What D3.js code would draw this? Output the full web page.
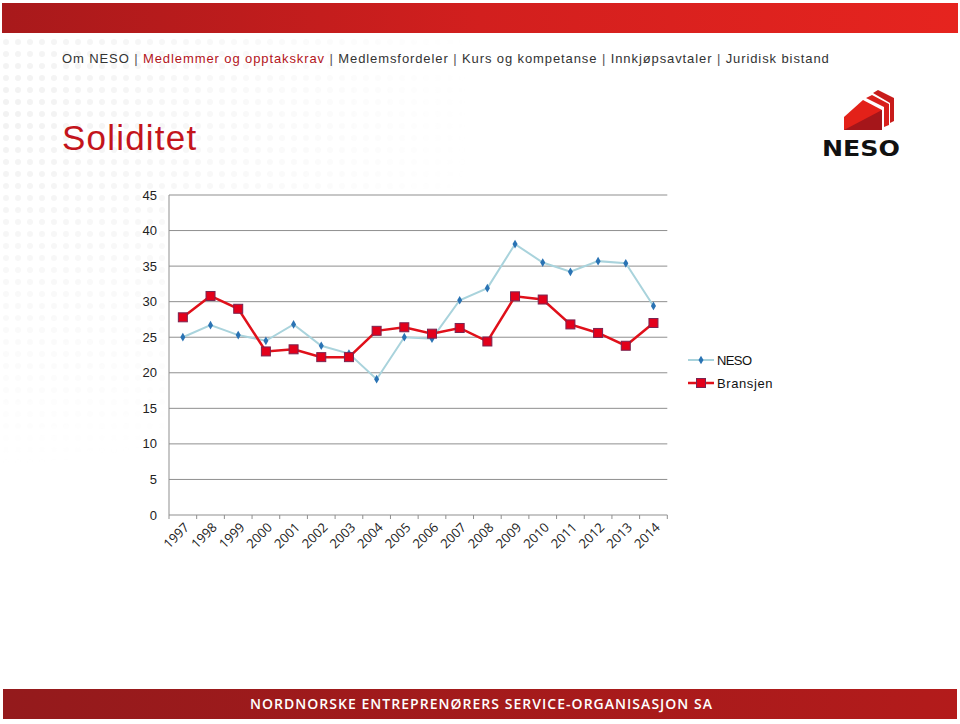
<!DOCTYPE html>
<html>
<head>
<meta charset="utf-8">
<script src="https://cdn.jsdelivr.net/npm/d3@7"></script>
<style>
  html, body { margin: 0; padding: 0; background: #fff; }
  svg { display: block; }
</style>
</head>
<body>
<div id="chart"></div>
<script>
// data
const years = ["1997","1998","1999","2000","2001","2002","2003","2004","2005",
               "2006","2007","2008","2009","2010","2011","2012","2013","2014"];
const neso = [25.0, 26.7, 25.3, 24.5, 26.8, 23.8, 22.7, 19.1, 25.0,
              24.8, 30.2, 31.9, 38.1, 35.5, 34.2, 35.7, 35.4, 29.4];
const bransjen = [27.8, 30.8, 29.0, 23.0, 23.3, 22.2, 22.2, 25.9, 26.4,
                  25.5, 26.3, 24.4, 30.75, 30.3, 26.8, 25.6, 23.8, 27.0];
const yTicks = [0, 5, 10, 15, 20, 25, 30, 35, 40, 45];
const seriesNames = ["NESO", "Bransjen"];
const navItems = ["Om NESO", "Medlemmer og opptakskrav", "Medlemsfordeler",
                  "Kurs og kompetanse", "Innkjøpsavtaler", "Juridisk bistand"];

const W = 960, H = 724;
const svg = d3.select("#chart").append("svg")
    .attr("width", W)
    .attr("height", H);

const defs = svg.append("defs");

// header / footer gradients
const hg = defs.append("linearGradient").attr("id", "hdr");
hg.append("stop").attr("offset", "0%").attr("stop-color", "#a8191b");
hg.append("stop").attr("offset", "50%").attr("stop-color", "#d21f1e");
hg.append("stop").attr("offset", "100%").attr("stop-color", "#e6241f");

const fg = defs.append("linearGradient").attr("id", "ftr");
fg.append("stop").attr("offset", "0%").attr("stop-color", "#941a1c");
fg.append("stop").attr("offset", "100%").attr("stop-color", "#b31b1b");

// faint halftone dots in the background
const pat = defs.append("pattern").attr("id", "dots")
    .attr("width", 12).attr("height", 12)
    .attr("patternUnits", "userSpaceOnUse");
pat.append("circle").attr("cx", 6).attr("cy", 6).attr("r", 3).attr("fill", "#ececec");
const rg = defs.append("radialGradient").attr("id", "fade")
    .attr("cx", 0).attr("cy", 0.15).attr("r", 0.5);
rg.append("stop").attr("offset", "0%").attr("stop-color", "#fff").attr("stop-opacity", 0.7);
rg.append("stop").attr("offset", "100%").attr("stop-color", "#fff").attr("stop-opacity", 0);
defs.append("mask").attr("id", "dotmask")
    .append("rect").attr("width", W).attr("height", H).attr("fill", "url(#fade)");
svg.append("rect")
    .attr("width", W).attr("height", H)
    .attr("fill", "url(#dots)")
    .attr("mask", "url(#dotmask)");

// header band
svg.append("rect")
    .attr("x", 2).attr("y", 3)
    .attr("width", W - 4).attr("height", 30)
    .attr("fill", "url(#hdr)");

// nav menu
const nav = svg.append("text")
    .attr("x", 62).attr("y", 63)
    .style("font-family", "Liberation Sans, Arial, sans-serif")
    .style("font-size", "13px")
    .style("letter-spacing", "0.9px");
navItems.forEach((t, i) => {
    nav.append("tspan")
        .attr("fill", i === 1 ? "#b3141b" : "#333")
        .text(t);
    if (i < navItems.length - 1) {
        nav.append("tspan").attr("fill", "#555").text(" | ");
    }
});

// title
svg.append("text")
    .attr("x", 62).attr("y", 150)
    .style("font-family", "Liberation Sans, Arial, sans-serif")
    .style("font-size", "35px")
    .style("letter-spacing", "1.2px")
    .attr("fill", "#c3141b")
    .text("Soliditet");

// logo
const logo = svg.append("g");
logo.append("polygon")
    .attr("points", "844,130 844,117 863,100 882,110 882,130")
    .attr("fill", "#e32119");
logo.append("polygon")
    .attr("points", "844,130 882,110 882,130")
    .attr("fill", "#a5161a");
logo.append("polygon")
    .attr("points", "866,98 872,95 889,104 889,125 884,127 884,107")
    .attr("fill", "#d8201c");
logo.append("polygon")
    .attr("points", "873,93 878,90 894,98 894,121 890,123 890,103")
    .attr("fill", "#c81c1b");
logo.append("text")
    .attr("x", 822).attr("y", 156)
    .attr("textLength", 78)
    .attr("lengthAdjust", "spacingAndGlyphs")
    .style("font-family", "DejaVu Sans, sans-serif")
    .style("font-weight", "bold")
    .style("font-size", "22px")
    .attr("fill", "#111")
    .text("NESO");

// chart
const plotLeft = 169, plotRight = 667.3, plotTop = 195, plotBottom = 515;

const x = d3.scaleBand().domain(years).range([plotLeft, plotRight]).padding(0);
const y = d3.scaleLinear().domain([0, 45]).range([plotBottom, plotTop]);
const cx = d => x(d) + x.bandwidth() / 2;

// white plot background over the dots
svg.append("rect")
    .attr("x", plotLeft).attr("y", plotTop)
    .attr("width", plotRight - plotLeft).attr("height", plotBottom - plotTop)
    .attr("fill", "#fff");

// gridlines
svg.append("g").selectAll("line")
    .data(yTicks.filter(d => d > 0))
    .enter().append("line")
    .attr("x1", plotLeft).attr("x2", plotRight)
    .attr("y1", d => y(d)).attr("y2", d => y(d))
    .attr("stroke", "#8f8f8f")
    .attr("stroke-width", 1);

// y axis
svg.append("line")
    .attr("x1", plotLeft).attr("x2", plotLeft)
    .attr("y1", plotTop).attr("y2", plotBottom)
    .attr("stroke", "#8f8f8f");
svg.append("g").selectAll("text")
    .data(yTicks)
    .enter().append("text")
    .attr("x", 157)
    .attr("y", d => y(d))
    .attr("dy", "0.35em")
    .attr("text-anchor", "end")
    .style("font-family", "Liberation Sans, Arial, sans-serif")
    .style("font-size", "13px")
    .attr("fill", "#222")
    .text(d => d);

// x axis
svg.append("line")
    .attr("x1", plotLeft).attr("x2", plotRight)
    .attr("y1", plotBottom).attr("y2", plotBottom)
    .attr("stroke", "#8f8f8f");
svg.append("g").selectAll("line")
    .data(years.map(d => x(d)).concat([plotRight]))
    .enter().append("line")
    .attr("x1", d => d).attr("x2", d => d)
    .attr("y1", plotBottom).attr("y2", plotBottom + 4)
    .attr("stroke", "#8f8f8f");
svg.append("g").selectAll("text")
    .data(years)
    .enter().append("text")
    .attr("transform", d => `translate(${cx(d) + 4},${plotBottom + 10}) rotate(-45)`)
    .attr("text-anchor", "end")
    .attr("dy", "0.35em")
    .style("font-family", "Open Sans, sans-serif")
    .style("font-size", "13px")
    .attr("fill", "#222")
    .text(d => d);

// lines
const line = d3.line().x((d, i) => cx(years[i])).y(d => y(d));

svg.append("path")
    .datum(neso)
    .attr("d", line)
    .attr("fill", "none")
    .attr("stroke", "#a9d3dc")
    .attr("stroke-width", 2);

svg.append("g").selectAll("path")
    .data(neso)
    .enter().append("path")
    .attr("d", d3.symbol(d3.symbolDiamond, 22))
    .attr("transform", (d, i) => `translate(${cx(years[i])},${y(d)})`)
    .attr("fill", "#2a73b4");

svg.append("path")
    .datum(bransjen)
    .attr("d", line)
    .attr("fill", "none")
    .attr("stroke", "#e0101a")
    .attr("stroke-width", 2.5);

svg.append("g").selectAll("rect")
    .data(bransjen)
    .enter().append("rect")
    .attr("x", (d, i) => cx(years[i]) - 4.5)
    .attr("y", d => y(d) - 4.5)
    .attr("width", 9).attr("height", 9)
    .attr("fill", "#e3001b")
    .attr("stroke", "#7a2450")
    .attr("stroke-width", 1);

// legend
const legend = svg.append("g");
const legY = [360, 383];
legend.append("line")
    .attr("x1", 688).attr("x2", 714)
    .attr("y1", legY[0]).attr("y2", legY[0])
    .attr("stroke", "#a9d3dc").attr("stroke-width", 2);
legend.append("path")
    .attr("d", d3.symbol(d3.symbolDiamond, 22))
    .attr("transform", `translate(701,${legY[0]})`)
    .attr("fill", "#2a73b4");
legend.append("line")
    .attr("x1", 688).attr("x2", 714)
    .attr("y1", legY[1]).attr("y2", legY[1])
    .attr("stroke", "#e0101a").attr("stroke-width", 2.5);
legend.append("rect")
    .attr("x", 701 - 4.5).attr("y", legY[1] - 4.5)
    .attr("width", 9).attr("height", 9)
    .attr("fill", "#e3001b")
    .attr("stroke", "#7a2450");
legend.selectAll("text")
    .data(seriesNames)
    .enter().append("text")
    .attr("x", 717)
    .attr("y", (d, i) => legY[i])
    .attr("dy", "0.35em")
    .style("font-family", "Liberation Sans, Arial, sans-serif")
    .style("font-size", "13px")
    .style("letter-spacing", (d, i) => i === 1 ? "0.6px" : "-0.6px")
    .attr("fill", "#111")
    .text(d => d);

// footer band
svg.append("rect")
    .attr("x", 3).attr("y", 689)
    .attr("width", W - 6).attr("height", 30)
    .attr("fill", "url(#ftr)");
svg.append("text")
    .attr("x", 250).attr("y", 704)
    .attr("dy", "0.35em")
    .attr("textLength", 462)
    .attr("lengthAdjust", "spacing")
    .style("font-family", "Open Sans, sans-serif")
    .style("font-weight", "600")
    .style("font-size", "14px")
    .attr("fill", "#fff")
    .text("NORDNORSKE ENTREPRENØRERS SERVICE-ORGANISASJON SA");
</script>
</body>
</html>
